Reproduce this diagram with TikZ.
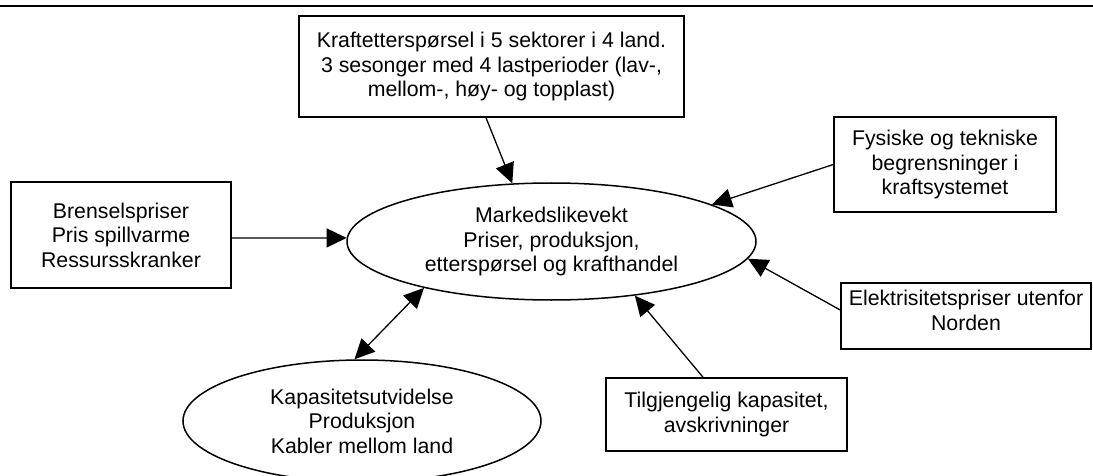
\documentclass[tikz,border=0pt]{standalone}
\usepackage{fontspec}
\setmainfont{Liberation Sans}
\usetikzlibrary{arrows.meta,shapes.geometric}
\begin{document}
\begin{tikzpicture}[x=1pt,y=-1pt,
  lbl/.style={font=\fontsize{21.3}{24.5}\selectfont,align=center,inner sep=0pt},
  box/.style={lbl,draw,line width=1.5pt,rectangle},
  ell/.style={lbl,draw,line width=1.5pt,ellipse},
  arr/.style={-{Triangle[length=20pt,width=19pt]},line width=1.3pt},
  darr/.style={{Triangle[length=20pt,width=19pt]}-{Triangle[length=20pt,width=19pt]},line width=1.3pt}]
\useasboundingbox (0,0) rectangle (1093,476);
\clip (0,0) rectangle (1093,476);
\draw[line width=2.2pt] (0,6) -- (1093,6);

\node[box,minimum width=385pt,minimum height=101pt] (topbox) at (491.5,66.5)
  {Kraftetterspørsel i 5 sektorer i 4 land.\\3 sesonger med 4 lastperioder (lav-,\\mellom-, høy- og topplast)};
\node[box,minimum width=220pt,minimum height=106pt] (brensel) at (121,235)
  {Brenselspriser\\Pris spillvarme\\Ressursskranker};
\node[box,minimum width=222pt,minimum height=95pt] (fys) at (945,164.5)
  {Fysiske og tekniske\\begrensninger i\\kraftsystemet};
\node[box,minimum width=250pt,minimum height=66pt] (elbox) at (966,316) {};
\node[lbl] (eltext) at (966,310.5) {Elektrisitetspriser utenfor\\Norden};
\node[box,minimum width=241pt,minimum height=73pt] (tilg) at (726.5,414.5)
  {Tilgjengelig kapasitet,\\avskrivninger};
\node[ell,minimum width=409pt,minimum height=117pt] (main) at (551.5,241.5)
  {Markedslikevekt\\Priser, produksjon,\\etterspørsel og krafthandel};
\node[ell,minimum width=358pt,minimum height=122pt] (bot) at (362,421)
  {Kapasitetsutvidelse\\Produksjon\\Kabler mellom land};

\draw[arr] ([xshift=-5.5pt]topbox.south) -- (main.124);
\draw[arr] ([yshift=-3pt]brensel.east) -- (main.179);
\draw[arr] (fys.west) -- (main.13);
\draw[arr] ([yshift=6pt]elbox.west) -- (main.-5);
\draw[arr] ([xshift=-23.5pt]tilg.north) -- (main.-33);
\draw[darr] (bot.97) -- (main.-160);
\end{tikzpicture}
\end{document}
